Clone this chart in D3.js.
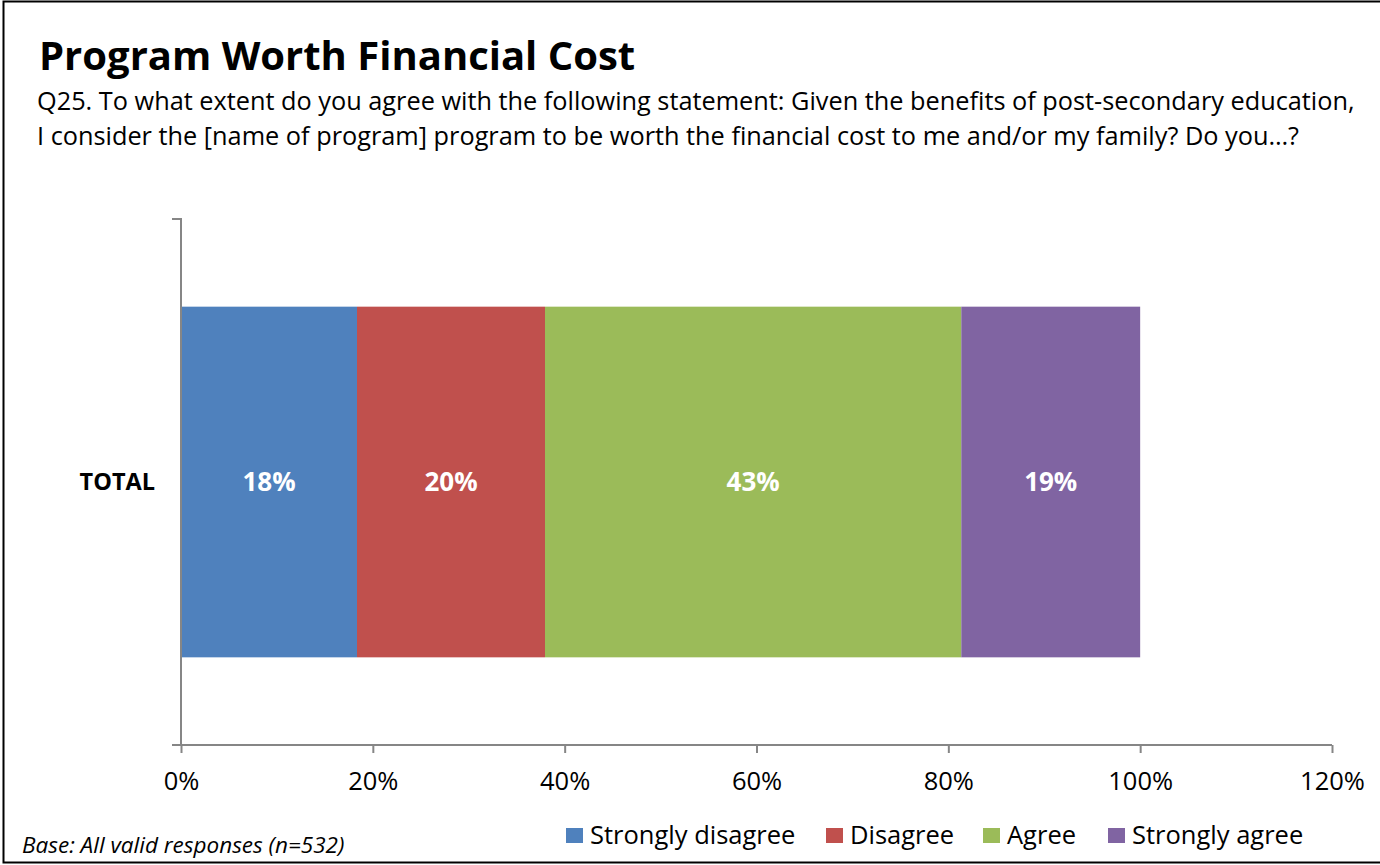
<!DOCTYPE html>
<html>
<head>
<meta charset="utf-8">
<script src="https://cdn.jsdelivr.net/npm/d3@7/dist/d3.min.js"></script>
<style>
  html, body { margin: 0; padding: 0; background: #fff; }
  svg { display: block; font-family: "Open Sans", sans-serif; }
</style>
</head>
<body>
<svg id="chart" width="1380" height="865"></svg>
<script>
const categories = ['TOTAL']
const seriesNames = ['Strongly disagree', 'Disagree', 'Agree', 'Strongly agree']
const seriesValues = [18.35, 19.6, 43.4, 18.65]
const seriesColors = ['#4F81BD', '#C0504D', '#9BBB59', '#8064A2']
const xTicks = [0, 20, 40, 60, 80, 100, 120]

const title = 'Program Worth Financial Cost'
const subtitle = [
  'Q25. To what extent do you agree with the following statement: Given the benefits of post-secondary education,',
  'I consider the [name of program] program to be worth the financial cost to me and/or my family? Do you\u2026?'
]
const baseNote = 'Base:  All valid responses (n=532)'

const svg = d3.select('#chart')

// outer frame
svg.append('rect')
  .attr('x', 3.5).attr('y', 1.5)
  .attr('width', 1390).attr('height', 861)
  .attr('fill', 'none')
  .attr('stroke', '#000')
  .attr('stroke-width', 2)

svg.append('text')
  .attr('x', 39).attr('y', 70)
  .attr('font-size', 40)
  .attr('font-weight', 'bold')
  .attr('fill', '#000')
  .text(title)

svg.selectAll('.sub')
  .data(subtitle)
  .enter().append('text')
  .attr('class', 'sub')
  .attr('x', 37)
  .attr('y', (d, i) => 110 + i * 35)
  .attr('font-size', 25.3)
  .attr('fill', '#000')
  .text(d => d)

const x = d3.scaleLinear().domain([0, 120]).range([181, 1332])
const y = d3.scaleBand().domain(categories).range([219, 745]).paddingInner(0).paddingOuter(0.25)

// stacked data
const stack = []
categories.forEach(cat => {
  let acc = 0
  seriesValues.forEach((v, i) => {
    stack.push({ cat, name: seriesNames[i], value: v, x0: acc, x1: acc + v, color: seriesColors[i] })
    acc += v
  })
})

const g = svg.append('g')

g.selectAll('.seg')
  .data(stack)
  .enter().append('rect')
  .attr('class', 'seg')
  .attr('x', d => x(d.x0))
  .attr('y', d => y(d.cat))
  .attr('width', d => x(d.x1) - x(d.x0))
  .attr('height', y.bandwidth())
  .attr('fill', d => d.color)

g.selectAll('.seg-label')
  .data(stack)
  .enter().append('text')
  .attr('class', 'seg-label')
  .attr('x', d => (x(d.x0) + x(d.x1)) / 2)
  .attr('y', d => y(d.cat) + y.bandwidth() / 2)
  .attr('dy', '0.35em')
  .attr('text-anchor', 'middle')
  .attr('font-size', 26)
  .attr('font-weight', 'bold')
  .attr('fill', '#fff')
  .text(d => Math.round(d.value) + '%')

// x axis
const xAxis = d3.axisBottom(x)
  .tickValues(xTicks)
  .tickSize(8)
  .tickPadding(19)
  .tickFormat(d => d + '%')

const xg = svg.append('g')
  .attr('transform', 'translate(0,745)')
  .call(xAxis)
xg.select('.domain').attr('stroke', '#868686').attr('stroke-width', 2)
  .attr('d', `M${x(0) - 9},0H${x(120)}`)
xg.selectAll('.tick line').attr('stroke', '#868686').attr('stroke-width', 2)
xg.selectAll('.tick text')
  .attr('font-size', 25.5)
  .attr('font-family', '"Open Sans", sans-serif')
  .attr('fill', '#000')

// y axis
const yAxis = d3.axisLeft(y).tickSize(0).tickPadding(26)
const yg = svg.append('g')
  .attr('transform', `translate(${x(0)},0)`)
  .call(yAxis)
yg.select('.domain').attr('stroke', '#868686').attr('stroke-width', 2)
  .attr('d', 'M-9,219H0V745')
yg.selectAll('.tick text')
  .attr('font-size', 23.5)
  .attr('font-weight', 'bold')
  .attr('font-family', '"Open Sans", sans-serif')
  .attr('fill', '#000')

// legend
const legendX = [566, 826, 983, 1108]
const legend = svg.selectAll('.legend')
  .data(seriesNames)
  .enter().append('g')
  .attr('class', 'legend')
  .attr('transform', (d, i) => `translate(${legendX[i]},828)`)
legend.append('rect')
  .attr('width', 17).attr('height', 15)
  .attr('fill', (d, i) => seriesColors[i])
legend.append('text')
  .attr('x', 24).attr('y', 7)
  .attr('dy', '0.35em')
  .attr('font-size', 25.5)
  .attr('fill', '#000')
  .text(d => d)

svg.append('text')
  .attr('x', 22).attr('y', 853)
  .attr('font-size', 22.5)
  .attr('font-style', 'italic')
  .attr('fill', '#000')
  .text(baseNote)
</script>
</body>
</html>
